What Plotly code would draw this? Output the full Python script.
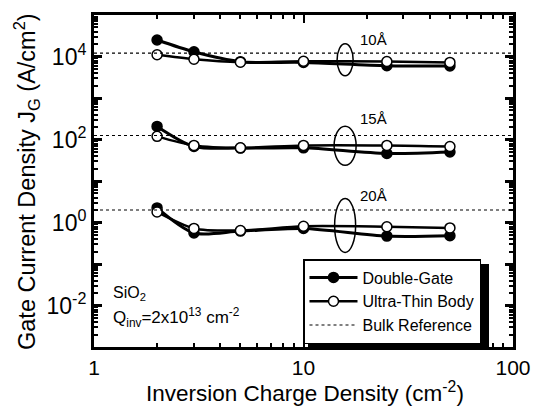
import numpy as np
import plotly.graph_objects as go

# ---- data ----
x_q = [2, 3, 5, 10, 25, 50]
thickness = ["10Å", "15Å", "20Å"]
dg_10 = [25000, 13000, 7500, 7200, 6000, 5900]
utb_10 = [11000, 8600, 7300, 7700, 7600, 7200]
dg_15 = [207, 68, 62, 63, 46, 50]
utb_15 = [119, 72, 63, 72, 72, 68]
dg_20 = [2.25, 0.56, 0.62, 0.72, 0.47, 0.48]
utb_20 = [1.8, 0.72, 0.64, 0.81, 0.79, 0.74]
bulk_ref = [12000, 125, 2.0]
x_span = [1, 100]
x_ticks = [1, 10, 100]
y_span_exp = [-3, 5]
y_labelled_exp = [-2, 0, 2, 4]
y_unlabelled_exp = [-3, -1, 1, 3, 5]

dg_series = [dg_10, dg_15, dg_20]
utb_series = [utb_10, utb_15, utb_20]

FONT = "Liberation Sans, Arial, sans-serif"
W, H = 536, 407
ML, MR, MT, MB = 94, 23, 15, 60
PW, PH = W - ML - MR, H - MT - MB
lx0, lx1 = np.log10(x_span[0]), np.log10(x_span[1])


def to_paper(xv, yv):
    return ((np.log10(xv) - lx0) / (lx1 - lx0),
            (np.log10(yv) - y_span_exp[0]) / (y_span_exp[1] - y_span_exp[0]))


fig = go.Figure()

# bulk reference lines (on overlaid axis carrying the odd-decade ticks)
for i, b in enumerate(bulk_ref):
    fig.add_trace(go.Scatter(
        x=x_span, y=[b, b], mode="lines", yaxis="y2",
        line=dict(color="black", width=1.2, dash="dot"),
        name="Bulk Reference", legendgroup="bulk", showlegend=(i == 0),
        legendrank=3))

for i in range(3):
    fig.add_trace(go.Scatter(
        x=x_q, y=dg_series[i], mode="lines+markers",
        line=dict(color="black", width=3, shape="spline", smoothing=0.8),
        marker=dict(symbol="circle", size=10, color="black",
                    line=dict(color="black", width=1.5)),
        name="Double-Gate", legendgroup="dg", showlegend=(i == 0),
        legendrank=1))
for i in range(3):
    fig.add_trace(go.Scatter(
        x=x_q, y=utb_series[i], mode="lines+markers",
        line=dict(color="black", width=2.5, shape="spline", smoothing=0.8),
        marker=dict(symbol="circle", size=10, color="white",
                    line=dict(color="black", width=1.5)),
        name="Ultra-Thin Body", legendgroup="utb", showlegend=(i == 0),
        legendrank=2))

# ellipses: centre in data units, size in pixels -> paper coords
ell_x = 15.8
ell_specs = [(10 ** 3.92, 16, 32), (10 ** 1.85, 22, 39), (10 ** -0.07, 21, 54)]
shapes = []
for yc, w, h in ell_specs:
    px, py = to_paper(ell_x, yc)
    shapes.append(dict(type="circle", xref="paper", yref="paper",
                       x0=px - w / 2 / PW, x1=px + w / 2 / PW,
                       y0=py - h / 2 / PH, y1=py + h / 2 / PH,
                       line=dict(color="black", width=1.5)))

# legend box geometry (pixels) and its shadow
leg_left, leg_top = 303, 259
shadow = dict(left=308, right=489, top=264, bottom=347)
shapes.append(dict(type="rect", xref="paper", yref="paper",
                   x0=(shadow["left"] - ML) / PW, x1=(shadow["right"] - ML) / PW,
                   y0=(H - MB - shadow["bottom"]) / PH, y1=(H - MB - shadow["top"]) / PH,
                   fillcolor="black", line=dict(width=0), layer="below"))

annotations = []
label_y = [10 ** 4.40, 10 ** 2.5, 10 ** 0.65]
for t, ly in zip(thickness, label_y):
    px, py = to_paper(21.5, ly)
    annotations.append(dict(x=px, y=py, xref="paper", yref="paper",
                            xanchor="center", yanchor="middle",
                            text=t, showarrow=False,
                            font=dict(size=15, family=FONT, color="black")))
annotations.append(dict(x=0.040, y=0.160, xref="paper", yref="paper",
                        xanchor="left", yanchor="middle", showarrow=False,
                        text="SiO<sub>2</sub>",
                        font=dict(size=16, family=FONT, color="black")))
annotations.append(dict(x=0.040, y=0.090, xref="paper", yref="paper",
                        xanchor="left", yanchor="middle", showarrow=False,
                        text="Q<sub>inv</sub>=2x10<sup>13</sup> cm<sup>-2</sup>",
                        font=dict(size=17, family=FONT, color="black")))
# axis titles
annotations.append(dict(x=(305 - ML) / PW, y=(H - MB - 392) / PH, xref="paper", yref="paper",
                        xanchor="center", yanchor="middle", showarrow=False,
                        text="Inversion Charge Density (cm<sup>-2</sup>)",
                        font=dict(size=22.5, family=FONT, color="black")))
annotations.append(dict(x=(26 - ML) / PW, y=(H - MB - 182) / PH, xref="paper", yref="paper",
                        xanchor="center", yanchor="middle", showarrow=False, textangle=-90,
                        text="Gate Current Density J<sub>G</sub> (A/cm<sup>2</sup>)",
                        font=dict(size=23.5, family=FONT, color="black")))

x_minor = [m * d for d in (1, 10) for m in range(2, 10)]
y_minor = [m * 10.0 ** e for e in range(-3, 5) for m in range(2, 10)]

fig.update_layout(
    width=W, height=H,
    margin=dict(l=ML, r=MR, t=MT, b=MB, autoexpand=False),
    paper_bgcolor="white", plot_bgcolor="white",
    font=dict(family=FONT, color="black", size=22),
    shapes=shapes, annotations=annotations,
    legend=dict(x=(leg_left - ML) / PW, y=(H - MB - leg_top) / PH,
                xanchor="left", yanchor="top",
                bgcolor="white", bordercolor="black", borderwidth=1.5,
                font=dict(size=16, family=FONT, color="black"),
                tracegroupgap=0, itemwidth=48),
    yaxis2=dict(type="log", range=y_span_exp, overlaying="y", side="left",
                tickvals=[10.0 ** e for e in y_unlabelled_exp],
                showticklabels=False, ticks="inside", ticklen=8, tickwidth=2.5,
                tickcolor="black", showline=True, linewidth=3, linecolor="black",
                mirror="ticks", showgrid=False, zeroline=False, automargin=False),
)
fig.update_xaxes(
    type="log", range=[lx0, lx1], automargin=False,
    tickvals=x_ticks, ticktext=[str(v) for v in x_ticks],
    ticks="inside", ticklen=8, tickwidth=2, tickcolor="black",
    showline=True, linewidth=3, linecolor="black", mirror="ticks",
    showgrid=False, zeroline=False,
    minor=dict(tickvals=x_minor, ticks="inside", ticklen=4, tickwidth=1.5,
               tickcolor="black", showgrid=False),
    tickfont=dict(size=21),
)
fig.update_layout(yaxis=dict(
    type="log", range=y_span_exp, automargin=False,
    tickvals=[10.0 ** e for e in y_labelled_exp],
    ticktext=["10<sup>%d</sup>" % e for e in y_labelled_exp],
    ticks="inside", ticklen=8, tickwidth=2.5, tickcolor="black",
    showline=True, linewidth=3, linecolor="black", mirror="ticks",
    showgrid=False, zeroline=False,
    minor=dict(tickvals=y_minor, ticks="inside", ticklen=4, tickwidth=1.5,
               tickcolor="black", showgrid=False),
    tickfont=dict(size=23),
))

fig.write_html("out.html")
